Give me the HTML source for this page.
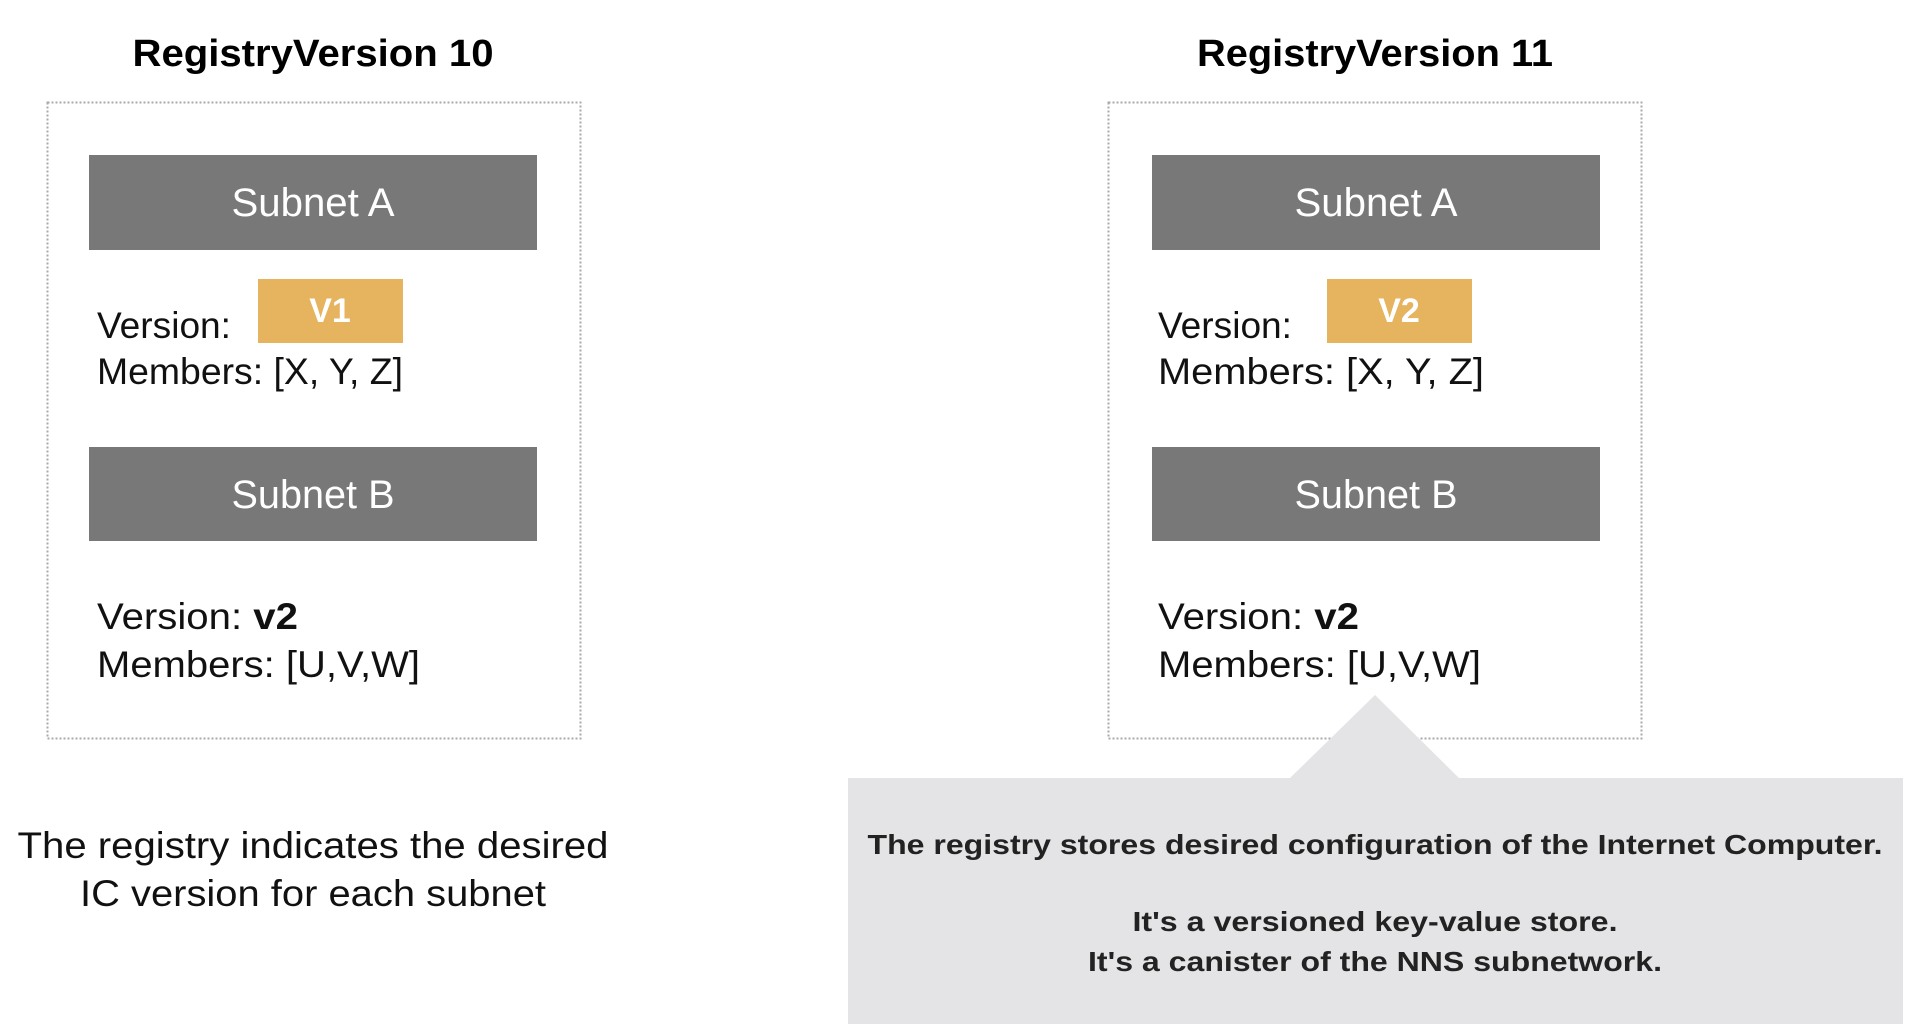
<!DOCTYPE html>
<html><head><meta charset="utf-8"><style>
html,body{margin:0;padding:0;background:#fff;}
svg{display:block;}
text{font-family:"Liberation Sans",Arial,sans-serif;}
</style></head><body>
<svg width="1910" height="1036" viewBox="0 0 1910 1036" xmlns="http://www.w3.org/2000/svg">
<!-- Left -->
<text x="313" y="66" text-anchor="middle" font-size="38" font-weight="bold" fill="#000" textLength="361" lengthAdjust="spacingAndGlyphs">RegistryVersion 10</text>
<rect x="47.5" y="102.5" width="533" height="636" fill="none" stroke="#aaa" stroke-width="2" stroke-dasharray="2,2"/>
<rect x="89" y="155" width="448" height="95" fill="#787878"/>
<text x="313" y="216" text-anchor="middle" font-size="40" fill="#fff" textLength="163" lengthAdjust="spacingAndGlyphs">Subnet A</text>
<rect x="258" y="279" width="145" height="64" fill="#e6b35f"/>
<text x="330" y="322" text-anchor="middle" font-size="34" font-weight="bold" fill="#fff">V1</text>
<text x="97" y="338" font-size="37" fill="#111" textLength="134" lengthAdjust="spacingAndGlyphs">Version:</text>
<text x="97" y="384" font-size="37" fill="#111" textLength="306" lengthAdjust="spacingAndGlyphs">Members: [X, Y, Z]</text>
<rect x="89" y="447" width="448" height="94" fill="#787878"/>
<text x="313" y="508" text-anchor="middle" font-size="40" fill="#fff" textLength="163" lengthAdjust="spacingAndGlyphs">Subnet B</text>
<text x="97" y="629" font-size="37" fill="#111" textLength="201" lengthAdjust="spacingAndGlyphs">Version: <tspan font-weight="bold">v2</tspan></text>
<text x="97" y="677" font-size="37" fill="#111" textLength="323" lengthAdjust="spacingAndGlyphs">Members: [U,V,W]</text>
<text x="313" y="858" text-anchor="middle" font-size="37" fill="#111" textLength="591" lengthAdjust="spacingAndGlyphs">The registry indicates the desired</text>
<text x="313" y="906" text-anchor="middle" font-size="37" fill="#111" textLength="466" lengthAdjust="spacingAndGlyphs">IC version for each subnet</text>

<g transform="translate(-5,0)">
<!-- Right -->
<text x="1380" y="66" text-anchor="middle" font-size="38" font-weight="bold" fill="#000" textLength="356" lengthAdjust="spacingAndGlyphs">RegistryVersion 11</text>
<rect x="1113.5" y="102.5" width="533" height="636" fill="none" stroke="#aaa" stroke-width="2" stroke-dasharray="2,2"/>
<rect x="1157" y="155" width="448" height="95" fill="#787878"/>
<text x="1381" y="216" text-anchor="middle" font-size="40" fill="#fff" textLength="163" lengthAdjust="spacingAndGlyphs">Subnet A</text>
<rect x="1332" y="279" width="145" height="64" fill="#e6b35f"/>
<text x="1404" y="322" text-anchor="middle" font-size="34" font-weight="bold" fill="#fff">V2</text>
<text x="1163" y="338" font-size="37" fill="#111" textLength="134" lengthAdjust="spacingAndGlyphs">Version:</text>
<text x="1163" y="384" font-size="37" fill="#111" textLength="326" lengthAdjust="spacingAndGlyphs">Members: [X, Y, Z]</text>
<rect x="1157" y="447" width="448" height="94" fill="#787878"/>
<text x="1381" y="508" text-anchor="middle" font-size="40" fill="#fff" textLength="163" lengthAdjust="spacingAndGlyphs">Subnet B</text>
<text x="1163" y="629" font-size="37" fill="#111" textLength="201" lengthAdjust="spacingAndGlyphs">Version: <tspan font-weight="bold">v2</tspan></text>
<text x="1163" y="677" font-size="37" fill="#111" textLength="323" lengthAdjust="spacingAndGlyphs">Members: [U,V,W]</text>

<!-- Callout -->
<polygon points="853,778 1295,778 1380,695 1464,778 1908,778 1908,1024 853,1024" fill="#e4e4e6"/>
<text x="1380" y="854" text-anchor="middle" font-size="28" font-weight="bold" fill="#222" textLength="1015" lengthAdjust="spacingAndGlyphs">The registry stores desired configuration of the Internet Computer.</text>
<text x="1380" y="931" text-anchor="middle" font-size="28" font-weight="bold" fill="#222" textLength="485" lengthAdjust="spacingAndGlyphs">It's a versioned key-value store.</text>
<text x="1380" y="971" text-anchor="middle" font-size="28" font-weight="bold" fill="#222" textLength="574" lengthAdjust="spacingAndGlyphs">It's a canister of the NNS subnetwork.</text>
</g>
</svg>
</body></html>
